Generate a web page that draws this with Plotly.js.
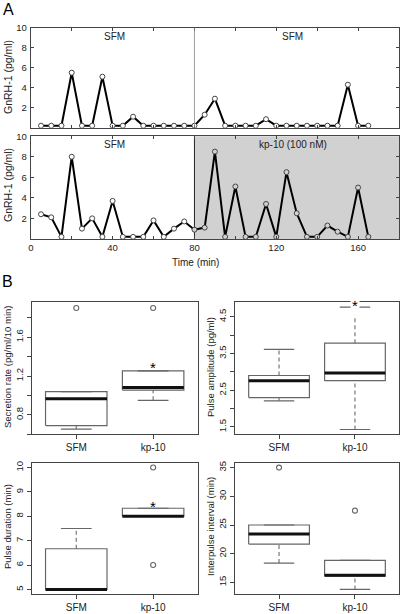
<!DOCTYPE html>
<html><head><meta charset="utf-8">
<script src="https://cdn.plot.ly/plotly-3.0.1.min.js"></script>
<style>html,body{margin:0;padding:0;background:#fff}</style>
</head><body><div id="chart" style="width:400px;height:614px"></div>
<script>
// ---------- Data ----------
const time = [5,10,15,20,25,30,35,40,45,50,55,60,65,70,75,80,85,90,95,100,105,110,115,120,125,130,135,140,145,150,155,160,165];
const gnrhControl = [0.2,0.2,0.2,5.5,0.2,0.2,5.1,0.2,0.2,1.1,0.2,0.2,0.2,0.2,0.2,0.2,1.3,2.9,0.2,0.2,0.2,0.2,0.85,0.2,0.2,0.2,0.2,0.2,0.2,0.2,4.3,0.2,0.2];
const gnrhKp10 = [2.4,2.1,0.2,8.0,1.0,2.0,0.2,3.7,0.2,0.2,0.2,1.8,0.2,1.0,1.7,0.9,1.1,8.5,0.2,5.1,0.2,0.2,3.4,0.2,6.5,2.5,0.2,0.2,1.3,0.7,0.2,5.0,0.2];
const treatmentStart = 80;
const timeMax = 180;

const groups = ['SFM','kp-10'];
// [lower whisker, Q1, median, Q3, upper whisker]
const secretionStats = [[0.654,0.69,0.967,1.04,1.04],[0.95,1.055,1.082,1.253,1.253]];
const secretionOutliers = [[1.90],[1.90]];
const amplitudeStats = [[2.21,2.30,2.76,2.90,3.61],[1.43,2.76,2.97,3.78,4.76]];
const amplitudeOutliers = [[],[]];
const durationStats = [[5,5,5,6.67,7.5],[8,8,8,8.33,8.33]];
const durationOutliers = [[],[10,6]];
const intervalStats = [[18.37,21.68,23.43,25,25],[13.78,16.07,16.25,18.83,18.83]];
const intervalOutliers = [[35],[27.5]];

// ---------- Styles ----------
const FONT = 'Liberation Sans, Arial, Helvetica, sans-serif';
const FRAME = '#444';
const TXT = '#222';
const W = 400, H = 614;
const px = v => v / W;
const py = v => 1 - v / H;

const traces = [];

// Panel A
traces.push({
  x: time, y: gnrhControl, xaxis: 'x', yaxis: 'y', type: 'scatter', mode: 'lines+markers',
  line: {color: '#000', width: 2},
  marker: {symbol: 'circle', size: 5, color: '#fff', line: {color: '#444', width: 1}},
  hoverinfo: 'skip', showlegend: false
});
traces.push({
  x: time, y: gnrhKp10, xaxis: 'x2', yaxis: 'y2', type: 'scatter', mode: 'lines+markers',
  line: {color: '#000', width: 2},
  marker: {symbol: 'circle', size: 5, color: time.map(t => t < treatmentStart ? '#fff' : '#d1d1d1'), line: {color: '#444', width: 1}},
  hoverinfo: 'skip', showlegend: false
});

// Panel B box plots drawn from stats
const HW = 0.4, CAP = 0.2;
function addBox(stats, outliers, xa, ya) {
  stats.forEach((s, i) => {
    const c = i + 1;
    const [lo, q1, med, q3, hi] = s;
    traces.push({x: [c, c, null, c, c], y: [q3, hi, null, lo, q1], xaxis: xa, yaxis: ya, mode: 'lines',
      line: {color: '#777', width: 1.2, dash: '4px,3px'}, hoverinfo: 'skip', showlegend: false});
    traces.push({x: [c-CAP, c+CAP, null, c-CAP, c+CAP], y: [hi, hi, null, lo, lo], xaxis: xa, yaxis: ya, mode: 'lines',
      line: {color: '#666', width: 1.2}, hoverinfo: 'skip', showlegend: false});
    traces.push({x: [c-HW, c+HW, c+HW, c-HW, c-HW], y: [q1, q1, q3, q3, q1], xaxis: xa, yaxis: ya, mode: 'lines',
      line: {color: '#666', width: 1.2}, hoverinfo: 'skip', showlegend: false});
    traces.push({x: [c-HW, c+HW], y: [med, med], xaxis: xa, yaxis: ya, mode: 'lines',
      line: {color: '#111', width: 3}, hoverinfo: 'skip', showlegend: false});
    if (outliers[i].length) {
      traces.push({x: outliers[i].map(() => c), y: outliers[i], xaxis: xa, yaxis: ya, mode: 'markers',
        marker: {symbol: 'circle-open', size: 5, color: '#666', line: {width: 1.1}}, hoverinfo: 'skip', showlegend: false});
    }
  });
}
addBox(secretionStats, secretionOutliers, 'x3', 'y3');
addBox(amplitudeStats, amplitudeOutliers, 'x4', 'y4');
addBox(durationStats, durationOutliers, 'x5', 'y5');
addBox(intervalStats, intervalOutliers, 'x6', 'y6');

// ---------- Axes ----------
const baseAx = {
  showline: true, linecolor: FRAME, linewidth: 1, mirror: 'allticks', showgrid: false, zeroline: false,
  tickcolor: FRAME, tickfont: {family: FONT, size: 9.5, color: TXT}, fixedrange: true
};
const aX = Object.assign({}, baseAx, {range: [0, timeMax], ticks: 'inside', ticklen: 3, dtick: 20, tick0: 0});
const aY = Object.assign({}, baseAx, {range: [0, 10], ticks: 'inside', ticklen: 3, tickvals: [2,4,6,8,10], ticklabelstandoff: 1});

const bX = Object.assign({}, baseAx, {mirror: true, range: [0.42, 2.58], tickvals: [1, 2], ticktext: groups,
  ticks: 'outside', ticklen: 4, tickfont: {family: FONT, size: 10, color: TXT}});
const bY = Object.assign({}, baseAx, {mirror: true, ticks: 'outside', ticklen: 4, tickangle: -90,
  tickfont: {family: FONT, size: 9.5, color: TXT}});

const domAx = [px(30.8), px(399)];
const domB1 = [px(31.7), px(197.7)];
const domB2 = [px(235), px(399)];
const domRow1 = [py(434.3), py(302.4)];
const domRow2 = [py(594.3), py(462.7)];

const layout = {
  width: W, height: H, margin: {l: 0, r: 0, t: 0, b: 0}, autosize: false,
  paper_bgcolor: '#fff', plot_bgcolor: '#fff', showlegend: false,
  font: {family: FONT, color: TXT},
  xaxis: Object.assign({}, aX, {domain: domAx, anchor: 'y', showticklabels: false}),
  yaxis: Object.assign({}, aY, {domain: [py(127.7), py(27.7)], anchor: 'x'}),
  xaxis2: Object.assign({}, aX, {domain: domAx, anchor: 'y2', dtick: 40,
    minor: {dtick: 20, ticks: 'inside', ticklen: 3, tickcolor: FRAME}, ticklabelstandoff: 0}),
  yaxis2: Object.assign({}, aY, {domain: [py(238.9), py(136.2)], anchor: 'x2'}),
  xaxis3: Object.assign({}, bX, {domain: domB1, anchor: 'y3'}),
  yaxis3: Object.assign({}, bY, {domain: domRow1, anchor: 'x3', range: [0.60, 1.958], tick0: 0.8, dtick: 0.4,
    minor: {dtick: 0.2, ticks: 'outside', ticklen: 4, tickcolor: FRAME}}),
  xaxis4: Object.assign({}, bX, {domain: domB2, anchor: 'y4'}),
  yaxis4: Object.assign({}, bY, {domain: domRow1, anchor: 'x4', range: [1.30, 4.89], tick0: 1.5, dtick: 1,
    minor: {dtick: 0.5, ticks: 'outside', ticklen: 4, tickcolor: FRAME}}),
  xaxis5: Object.assign({}, bX, {domain: domB1, anchor: 'y5'}),
  yaxis5: Object.assign({}, bY, {domain: domRow2, anchor: 'x5', range: [4.8, 10.2], tick0: 5, dtick: 1}),
  xaxis6: Object.assign({}, bX, {domain: domB2, anchor: 'y6'}),
  yaxis6: Object.assign({}, bY, {domain: domRow2, anchor: 'x6', range: [12.93, 35.85], tick0: 15, dtick: 5}),
  shapes: [
    {type: 'line', xref: 'x', yref: 'y domain', x0: treatmentStart, x1: treatmentStart, y0: 0, y1: 1,
      line: {color: '#888', width: 0.8}, layer: 'above'},
    {type: 'rect', xref: 'x2', yref: 'y2 domain', x0: treatmentStart, x1: timeMax, y0: 0, y1: 1,
      fillcolor: '#d1d1d1', line: {width: 0}, layer: 'below'},
    {type: 'line', xref: 'x2', yref: 'y2 domain', x0: treatmentStart, x1: treatmentStart, y0: 0, y1: 1,
      line: {color: '#222', width: 1}, layer: 'below'}
  ],
  annotations: []
};

const ann = layout.annotations;
function txt(o) { ann.push(Object.assign({showarrow: false, xanchor: 'center', yanchor: 'middle',
  font: {family: FONT, size: 10, color: TXT}}, o)); }
// panel letters
txt({text: 'A', xref: 'paper', yref: 'paper', x: px(1), y: py(9), xanchor: 'left', font: {family: FONT, size: 16, color: '#000'}});
txt({text: 'B', xref: 'paper', yref: 'paper', x: px(0), y: py(281), xanchor: 'left', font: {family: FONT, size: 16, color: '#000'}});
// panel A titles
txt({text: 'GnRH-1 (pg/ml)', xref: 'paper', yref: 'paper', x: px(8), y: py(77), textangle: -90, font: {family: FONT, size: 10.5, color: TXT}});
txt({text: 'GnRH-1 (pg/ml)', xref: 'paper', yref: 'paper', x: px(8), y: py(185), textangle: -90, font: {family: FONT, size: 10.5, color: TXT}});
txt({text: 'Time (min)', xref: 'paper', yref: 'paper', x: px(195), y: py(262.7)});
txt({text: 'SFM', xref: 'x', yref: 'y', x: 40.7, y: 9.15});
txt({text: 'SFM', xref: 'x', yref: 'y', x: 128, y: 9.15});
txt({text: 'SFM', xref: 'x2', yref: 'y2', x: 40.7, y: 9.15});
txt({text: 'kp-10 (100 nM)', xref: 'x2', yref: 'y2', x: 128, y: 9.15});
// panel B titles
txt({text: 'Secretion rate (pg/ml/10 min)', xref: 'paper', yref: 'paper', x: px(7), y: py(367), textangle: -90, font: {family: FONT, size: 9.5, color: TXT}});
txt({text: 'Pulse amplitude (pg/ml)', xref: 'paper', yref: 'paper', x: px(210), y: py(367), textangle: -90, font: {family: FONT, size: 9.5, color: TXT}});
txt({text: 'Pulse duration (min)', xref: 'paper', yref: 'paper', x: px(7), y: py(527), textangle: -90, font: {family: FONT, size: 9.5, color: TXT}});
txt({text: 'Interpulse interval (min)', xref: 'paper', yref: 'paper', x: px(210), y: py(527), textangle: -90, font: {family: FONT, size: 9.5, color: TXT}});
// significance stars
const starFont = {family: FONT, size: 15, color: '#000'};
txt({text: '*', xref: 'x3', yref: 'y3', x: 2, y: 1.314, yshift: -3, font: starFont});
txt({text: '*', xref: 'x4', yref: 'y4', x: 2, y: 4.89, yshift: -3, font: starFont, bgcolor: '#fff'});
txt({text: '*', xref: 'x5', yref: 'y5', x: 2, y: 8.53, yshift: -3, font: starFont});

Plotly.newPlot('chart', traces, layout, {staticPlot: true, displayModeBar: false});
</script>
</body></html>
